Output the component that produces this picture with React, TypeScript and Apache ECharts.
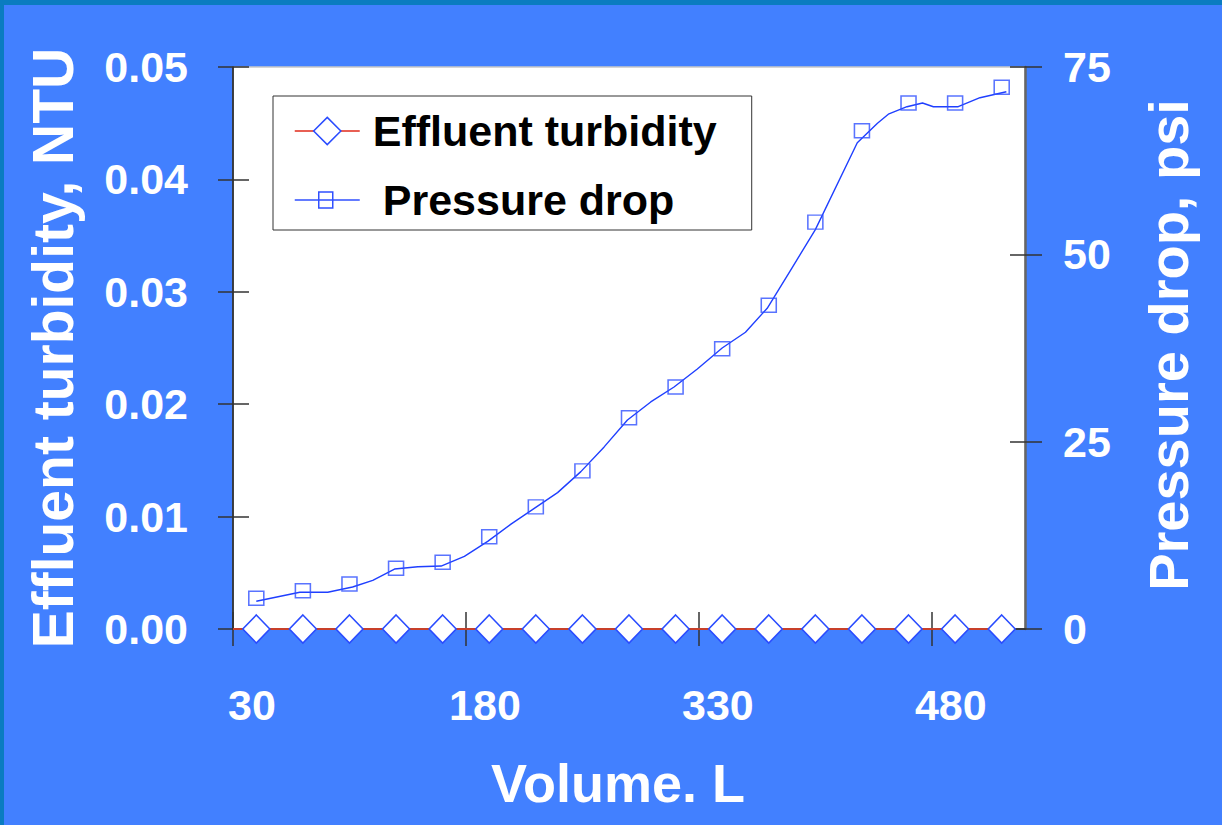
import React, { useEffect, useRef } from "react";
import * as echarts from "echarts";

// Volume (L) at which markers were recorded
const volumes = [45, 75, 105, 135, 165, 195, 225, 255, 285, 315, 345, 375, 405, 435, 465, 495, 525];
// Effluent turbidity, NTU (left axis)
const turbidity = [0, 0, 0, 0, 0, 0, 0, 0, 0, 0, 0, 0, 0, 0, 0, 0, 0];
// Extent of the turbidity trace line (L)
const turbidityLineExtent = [30, 533];
// Pressure drop markers, psi (right axis)
const pressureMarkers = [4.1, 5.1, 6.0, 8.1, 8.9, 12.3, 16.3, 21.1, 28.2, 32.3, 37.4, 43.2, 54.3, 66.5, 70.2, 70.2, 72.3];
// Pressure drop trace line (finer vertices)
const lineVolumes = [45, 73, 91, 107, 120, 134, 149, 164, 179, 194, 209, 224, 239, 254, 269, 284, 299, 314, 329, 345, 360, 374, 390, 405, 432, 445, 452, 464, 474, 481, 497, 511, 528];
const linePressure = [3.7, 4.9, 4.9, 5.6, 6.5, 8.0, 8.3, 8.4, 9.7, 11.7, 14.0, 16.1, 18.2, 21.0, 24.3, 27.9, 30.3, 32.3, 34.7, 37.5, 39.6, 42.8, 48.2, 53.3, 64.9, 67.5, 68.7, 69.7, 70.2, 69.7, 69.7, 70.9, 71.7];
// Axis ticks
const xTicks = [30, 180, 330, 480];
const xRange = [30, 540];
const turbidityRange = [0, 0.05, 0.01];
const pressureRange = [0, 75, 25];

const SANS = "'Liberation Sans', Arial, Helvetica, sans-serif";
const BLUE_BG = "#4280ff";
const MARKER_BLUE = "#2a4cff";

export default function App() {
  const ref = useRef<HTMLDivElement>(null);

  useEffect(() => {
    if (!ref.current) return;
    const chart = echarts.init(ref.current, null, { renderer: "svg" });

    const tickStyle = { color: "#333", width: 1.5 };
    const tickLabel = { color: "#fff", fontSize: 43, fontWeight: "bold" as const, fontFamily: SANS };
    const nameStyle = { color: "#fff", fontWeight: "bold" as const, fontFamily: SANS };

    const turbData: any[] = [
      { value: [turbidityLineExtent[0], 0], symbol: "none" },
      ...volumes.map((v, i) => [v, turbidity[i]]),
      { value: [turbidityLineExtent[1], 0], symbol: "none" },
    ];

    chart.setOption({
      animation: false,
      backgroundColor: BLUE_BG,
      graphic: [
        { type: "rect", left: 0, top: 0, shape: { width: 1222, height: 5 }, style: { fill: "#0a7cc0" }, silent: true },
        { type: "rect", left: 0, top: 0, shape: { width: 4, height: 825 }, style: { fill: "#0a7cc0" }, silent: true },
      ],
      grid: {
        left: 233,
        right: 197,
        top: 67,
        bottom: 196,
        show: true,
        backgroundColor: "#fff",
        borderColor: "#c8c8c8",
        borderWidth: 1.5,
        containLabel: false,
      },
      legend: {
        orient: "vertical",
        left: 273,
        top: 96,
        padding: [11, 35, 6, 21],
        itemWidth: 65,
        itemHeight: 34,
        itemGap: 21,
        backgroundColor: "#fff",
        borderColor: "#333",
        borderWidth: 1,
        selectedMode: false,
        textStyle: {
          fontSize: 43,
          fontWeight: "bold",
          color: "#000",
          fontFamily: SANS,
          lineHeight: 48,
          padding: [0, 0, 0, 8],
        },
        data: [
          {
            name: "Effluent turbidity",
            itemStyle: { color: "#fff", borderColor: MARKER_BLUE, borderWidth: 1.5 },
            lineStyle: { color: "#e02a1a", width: 1.5 },
          },
          {
            name: "Pressure drop",
            icon: "path://M0,17L65,17M24,9L38,9L38,25L24,25Z",
            itemStyle: { color: "rgba(0,0,0,0)", borderColor: "#3050ff", borderWidth: 1.5 },
            textStyle: { padding: [0, 0, 0, 18] },
          },
        ],
      },
      xAxis: [
        {
          type: "value",
          position: "bottom",
          min: xRange[0],
          max: xRange[1],
          axisLine: { show: true, onZero: false, lineStyle: { color: "#222", width: 1.5 } },
          axisTick: { show: true, customValues: xTicks, length: 17, lineStyle: tickStyle },
          axisLabel: { ...tickLabel, customValues: xTicks, margin: 54, padding: [0, 0, 0, 38] },
          splitLine: { show: false },
          name: "Volume. L",
          nameLocation: "middle",
          nameGap: 127,
          nameTextStyle: { ...nameStyle, fontSize: 54, padding: [0, 22, 0, 0] },
        },
        {
          type: "value",
          position: "bottom",
          min: xRange[0],
          max: xRange[1],
          axisLine: { show: false },
          axisTick: { show: true, inside: true, customValues: xTicks, length: 17, lineStyle: tickStyle },
          axisLabel: { show: false },
          splitLine: { show: false },
        },
      ],
      yAxis: [
        {
          type: "value",
          position: "left",
          min: turbidityRange[0],
          max: turbidityRange[1],
          interval: turbidityRange[2],
          axisLine: { show: true, onZero: false, lineStyle: { color: "#111", width: 1.5 } },
          axisTick: { show: true, length: 15, lineStyle: tickStyle },
          axisLabel: { ...tickLabel, margin: 45, formatter: (v: number) => v.toFixed(2) },
          splitLine: { show: false },
          name: "Effluent turbidity, NTU",
          nameLocation: "middle",
          nameRotate: 90,
          nameGap: 152,
          nameTextStyle: { ...nameStyle, fontSize: 57 },
        },
        {
          type: "value",
          position: "right",
          min: pressureRange[0],
          max: pressureRange[1],
          interval: pressureRange[2],
          axisLine: { show: true, onZero: false, lineStyle: { color: "#666", width: 2.5 } },
          axisTick: { show: true, length: 17, lineStyle: tickStyle },
          axisLabel: { ...tickLabel, margin: 38 },
          splitLine: { show: false },
          name: "Pressure drop, psi",
          nameLocation: "middle",
          nameRotate: 90,
          nameGap: 115,
          nameTextStyle: { ...nameStyle, fontSize: 56, padding: [0, 0, 0, 6] },
        },
        {
          type: "value",
          position: "left",
          min: turbidityRange[0],
          max: turbidityRange[1],
          interval: turbidityRange[2],
          axisLine: { show: false },
          axisTick: { show: true, inside: true, length: 16, lineStyle: tickStyle },
          axisLabel: { show: false },
          splitLine: { show: false },
        },
        {
          type: "value",
          position: "right",
          min: pressureRange[0],
          max: pressureRange[1],
          interval: pressureRange[2],
          axisLine: { show: false },
          axisTick: { show: true, inside: true, length: 15, lineStyle: tickStyle },
          axisLabel: { show: false },
          splitLine: { show: false },
        },
      ],
      series: [
        {
          name: "Pressure drop",
          type: "line",
          xAxisIndex: 0,
          yAxisIndex: 1,
          data: lineVolumes.map((v, i) => [v, linePressure[i]]),
          symbol: "rect",
          showSymbol: false,
          lineStyle: { color: "#1f3fff", width: 1.4 },
          itemStyle: { color: "rgba(0,0,0,0)", borderColor: "#3050ff", borderWidth: 1.5 },
          z: 2,
          silent: true,
        },
        {
          name: "Pressure drop",
          type: "scatter",
          xAxisIndex: 0,
          yAxisIndex: 1,
          data: volumes.map((v, i) => [v, pressureMarkers[i]]),
          symbol: "rect",
          symbolSize: [15, 14],
          itemStyle: { color: "rgba(0,0,0,0)", borderColor: "#3050ff", borderWidth: 1.5 },
          z: 3,
          silent: true,
        },
        {
          name: "Effluent turbidity",
          type: "line",
          xAxisIndex: 0,
          yAxisIndex: 0,
          data: turbData,
          symbol: "diamond",
          symbolSize: [27, 28],
          showSymbol: true,
          showAllSymbol: true,
          clip: false,
          lineStyle: { color: "#c8402a", width: 2 },
          itemStyle: { color: "#fff", borderColor: MARKER_BLUE, borderWidth: 1.6 },
          z: 4,
          silent: true,
        },
      ],
    });

    return () => chart.dispose();
  }, []);

  return (
    <div
      ref={ref}
      style={{ position: "fixed", left: 0, top: 0, width: 1222, height: 825 }}
    />
  );
}
